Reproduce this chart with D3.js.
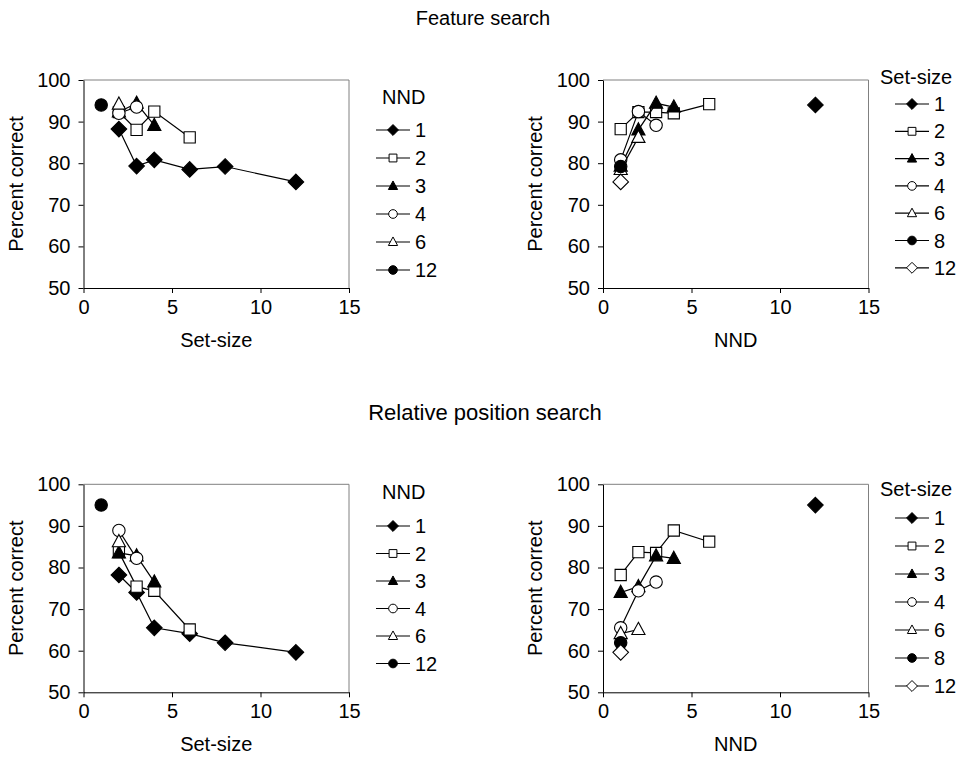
<!DOCTYPE html>
<html>
<head>
<meta charset="utf-8">
<script src="https://cdn.jsdelivr.net/npm/d3@7"></script>
<style>
body { margin: 0; background: #fff; }
text { font-family: Arial, "Liberation Sans", sans-serif; fill: #000; }
</style>
</head>
<body>
<div id="chart"></div>
<script>
var width = 965,
  height = 767;

// levels of the two factors
var nndValues = [1, 2, 3, 4, 6, 12];
var setSizeValues = [1, 2, 3, 4, 6, 8, 12];

// percent correct, rows = NND, columns = set-size (null = not tested)
var featureCorrect = [
  [null, 88.2, 79.3, 80.8, 78.5, 79.2, 75.5], // NND 1
  [null, 92.3, 88.0, 92.4, 86.2, null, null], // NND 2
  [null, 92.3, 94.4, 89.1, null, null, null], // NND 3
  [null, 92.0, 93.5, null, null, null, null], // NND 4
  [null, 94.2, null, null, null, null, null], // NND 6
  [94.0, null, null, null, null, null, null]  // NND 12
];
var relativeCorrect = [
  [null, 78.2, 74.0, 65.5, 64.1, 61.9, 59.6],
  [null, 83.7, 75.4, 74.4, 65.1, null, null],
  [null, 83.5, 82.8, 76.5, null, null, null],
  [null, 88.9, 82.2, null, null, null, null],
  [null, 86.2, null, null, null, null, null],
  [95.0, null, null, null, null, null, null]
];

var xTicks = [0, 5, 10, 15];
var yTicks = [50, 60, 70, 80, 90, 100];

// marker styles
var nndShapes = ["diamond", "square", "triangle", "circle", "triangle", "circle"];
var nndFilled = [true, false, true, false, false, true];
var ssShapes = ["diamond", "square", "triangle", "circle", "triangle", "circle", "diamond"];
var ssFilled = [true, false, true, false, false, true, false];

var plotW = 265.5, plotH = 208;
var fs = "20px";

var panels = [
  { data: featureCorrect, x0: 83.5, y0: 80, byNND: true, xLabel: "Set-size", title: "NND",
    legX: 393, titleX: 382, titleY: 97, rowY: 130, step: 28 },
  { data: featureCorrect, x0: 603, y0: 80, byNND: false, xLabel: "NND", title: "Set-size",
    legX: 912, titleX: 880, titleY: 77, rowY: 104, step: 27.3 },
  { data: relativeCorrect, x0: 83.5, y0: 484.3, byNND: true, xLabel: "Set-size", title: "NND",
    legX: 393, titleX: 382, titleY: 492, rowY: 526, step: 27.5 },
  { data: relativeCorrect, x0: 603, y0: 484.3, byNND: false, xLabel: "NND", title: "Set-size",
    legX: 912, titleX: 880, titleY: 489, rowY: 518, step: 28 }
];

var svg = d3.select("#chart")
  .append("svg")
  .attr("width", width)
  .attr("height", height)

svg.append("text").attr("x", 483).attr("y", 25).attr("text-anchor", "middle")
  .style("font-size", "20px").text("Feature search")
svg.append("text").attr("x", 485).attr("y", 420).attr("text-anchor", "middle")
  .style("font-size", "22px").text("Relative position search")

function markerPath(shape, s) {
  if (shape === "diamond") {
    var h = 7.8 * s;
    return "M0," + (-h) + "L" + h + ",0L0," + h + "L" + (-h) + ",0Z";
  } else if (shape === "square") {
    var a = 5.6 * s;
    return "M" + (-a) + "," + (-a) + "H" + a + "V" + a + "H" + (-a) + "Z";
  } else if (shape === "triangle") {
    var b = 6.6 * s;
    return "M0," + (-7.2 * s) + "L" + b + "," + (5 * s) + "L" + (-b) + "," + (5 * s) + "Z";
  }
  var r = 6.2 * s;
  return "M" + r + ",0A" + r + "," + r + " 0 1,1 " + (-r) + ",0A" + r + "," + r + " 0 1,1 " + r + ",0Z";
}

panels.forEach(function(p) {
  var g = svg.append("g");
  var x = d3.scaleLinear().domain([0, 15]).range([p.x0, p.x0 + plotW]);
  var y = d3.scaleLinear().domain([50, 100]).range([p.y0 + plotH, p.y0]);

  // grey frame on top and right
  g.append("path")
    .attr("d", "M" + x(0) + "," + y(100) + "H" + x(15) + "V" + y(50))
    .attr("fill", "none").attr("stroke", "#808080").attr("stroke-width", 1)

  var xAxis = g.append("g").attr("transform", "translate(0," + y(50) + ")")
    .call(d3.axisBottom(x).tickValues(xTicks).tickSize(5).tickSizeOuter(0).tickPadding(7));
  var yAxis = g.append("g").attr("transform", "translate(" + x(0) + ",0)")
    .call(d3.axisLeft(y).tickValues(yTicks).tickSize(5).tickSizeOuter(0).tickPadding(8));
  [xAxis, yAxis].forEach(function(a) {
    a.selectAll("text").style("font-size", fs).style("font-family", "Arial, 'Liberation Sans', sans-serif");
    a.selectAll("path, line").attr("stroke", "#000");
  });

  g.append("text").attr("x", x(7.5)).attr("y", y(50) + 59).attr("text-anchor", "middle")
    .style("font-size", fs).text(p.xLabel)
  g.append("text")
    .attr("transform", "translate(" + (x(0) - 61) + "," + y(75) + ") rotate(-90)")
    .attr("text-anchor", "middle").style("font-size", fs).text("Percent correct")

  // build series
  var series;
  if (p.byNND) {
    series = nndValues.map(function(n, i) {
      return {
        label: n, shape: nndShapes[i], filled: nndFilled[i],
        points: setSizeValues.map(function(ss, j) { return { x: ss, y: p.data[i][j] }; })
          .filter(function(d) { return d.y !== null; })
      };
    });
  } else {
    series = setSizeValues.map(function(ss, j) {
      return {
        label: ss, shape: ssShapes[j], filled: ssFilled[j],
        points: nndValues.map(function(n, i) { return { x: n, y: p.data[i][j] }; })
          .filter(function(d) { return d.y !== null; })
      };
    });
  }

  var line = d3.line().x(function(d) { return x(d.x); }).y(function(d) { return y(d.y); });

  series.forEach(function(s) {
    g.append("path").datum(s.points).attr("d", line)
      .attr("fill", "none").attr("stroke", "#000").attr("stroke-width", 1.2)
    g.selectAll(null).data(s.points).enter().append("path")
      .attr("transform", function(d) { return "translate(" + x(d.x) + "," + y(d.y) + ")"; })
      .attr("d", markerPath(s.shape, 1))
      .attr("fill", s.filled ? "#000" : "#fff")
      .attr("stroke", "#000").attr("stroke-width", 1.1)
  });

  // legend
  var leg = svg.append("g");
  leg.append("text").attr("x", p.titleX).attr("y", p.titleY).attr("dy", "0.35em")
    .style("font-size", fs).text(p.title)
  series.forEach(function(s, i) {
    var cy = p.rowY + i * p.step;
    leg.append("line").attr("x1", p.legX - 17).attr("x2", p.legX + 17)
      .attr("y1", cy).attr("y2", cy).attr("stroke", "#000").attr("stroke-width", 1.2)
    leg.append("path").attr("transform", "translate(" + p.legX + "," + cy + ")")
      .attr("d", markerPath(s.shape, 0.7))
      .attr("fill", s.filled ? "#000" : "#fff")
      .attr("stroke", "#000").attr("stroke-width", 1)
    leg.append("text").attr("x", p.legX + 22).attr("y", cy).attr("dy", "0.35em")
      .style("font-size", fs).text(s.label)
  });
});
</script>
</body>
</html>
